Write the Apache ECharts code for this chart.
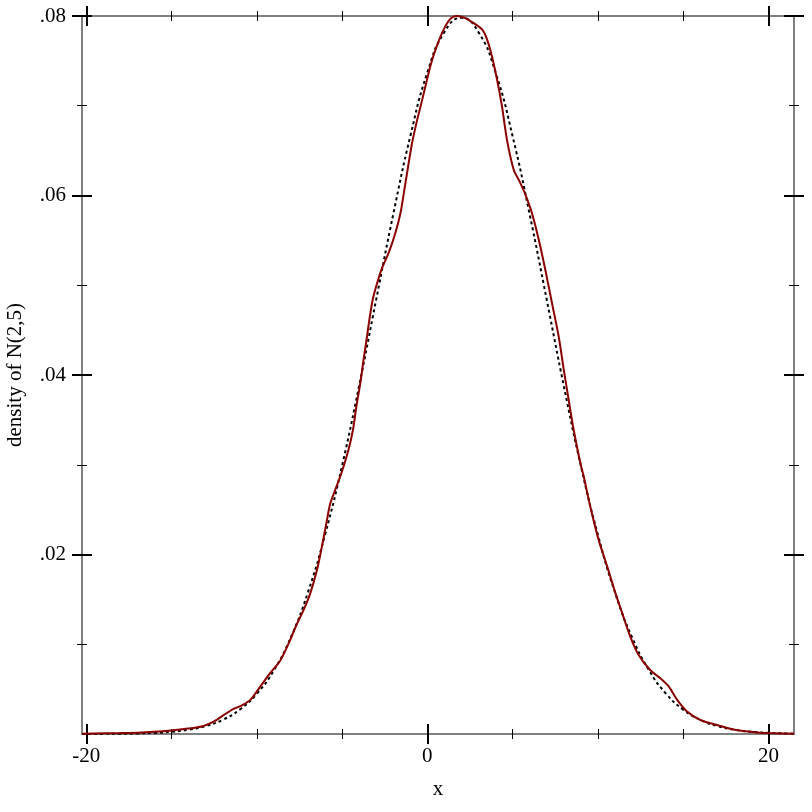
<!DOCTYPE html>
<html><head><meta charset="utf-8">
<script src="https://cdn.jsdelivr.net/npm/echarts@6/dist/echarts.min.js"></script>
<style>html,body{margin:0;padding:0;background:#fff}#c{width:812px;height:812px}</style>
</head><body><div id="c"></div><script>
// ---- tick values ----
const xMajorTicks = [-20, 0, 20];
const xMinorTicks = [-15, -10, -5, 5, 10, 15];
const yMajorTicks = [0.02, 0.04, 0.06, 0.08];
const yMinorTicks = [0.01, 0.03, 0.05, 0.07];

// ---- dashed curve: N(2,5) density ----
const normX = [-20.25,-20,-19,-18,-17,-16,-15,-14,-13,-12,-11,-10,-9,-8,-7,-6,-5,-4,-3,-2,-1,0,1,2,3,4,5,6,7,8,9,10,11,12,13,14,15,16,17,18,19,20,21,21.5];
const normY = [0.000005,0.000006,0.000013,0.000027,0.000058,0.00012,0.00025,0.00048,0.00089,0.00158,0.00272,0.00448,0.0071,0.0108,0.0158,0.0222,0.0299,0.0388,0.0484,0.0579,0.0666,0.0737,0.0782,0.0798,0.0782,0.0737,0.0666,0.0579,0.0484,0.0388,0.0299,0.0222,0.0158,0.0108,0.0071,0.00448,0.00272,0.00158,0.00089,0.00048,0.00025,0.00012,0.000058,0.00004];

// ---- solid curve: kernel density estimate ----
const kdeX = [-20.25,-19,-18,-17,-16,-15,-14,-13.12,-12.53,-11.95,-11.36,-10.87,-10.38,-9.79,-9.21,-8.62,-8.13,-7.64,-7.26,-6.86,-6.47,-6.18,-5.92,-5.69,-5.40,-5.05,-4.62,-4.36,-4.16,-3.93,-3.74,-3.54,-3.34,-3.18,-2.95,-2.66,-2.27,-1.88,-1.58,-1.35,-1.13,-0.90,-0.60,-0.31,-0.02,0.22,0.47,0.86,1.31,1.75,2.20,2.72,3.21,3.50,3.79,4.09,4.38,4.67,5.06,5.40,5.75,6.14,6.53,6.92,7.31,7.70,8.00,8.29,8.58,8.97,9.17,9.56,10.05,10.54,11.03,11.42,11.91,12.39,13.08,13.67,14.15,14.65,15.23,16.01,16.99,17.96,18.94,19.92,21.5];
const kdeY = [0.00004,0.00008,0.0001,0.00015,0.00025,0.0004,0.0006,0.0009,0.00137,0.0021,0.0028,0.0032,0.0038,0.0053,0.0068,0.0082,0.0101,0.0123,0.0138,0.0157,0.0183,0.0209,0.0235,0.0257,0.0272,0.0290,0.0317,0.0339,0.0365,0.0391,0.0417,0.0443,0.0469,0.0486,0.0502,0.0519,0.0536,0.0558,0.0580,0.0606,0.0632,0.0658,0.0684,0.0706,0.0729,0.0747,0.0762,0.0781,0.0796,0.0800,0.0798,0.0792,0.0785,0.0774,0.0755,0.0729,0.0699,0.0662,0.0629,0.0616,0.0601,0.0580,0.0551,0.0517,0.0480,0.0443,0.0406,0.0372,0.0339,0.0302,0.0287,0.0253,0.0216,0.0187,0.0157,0.0135,0.0108,0.0088,0.0071,0.0062,0.0053,0.0038,0.0025,0.00156,0.0010,0.0005,0.00026,0.0001,0.00003];

const X_MIN = -20.25, X_MAX = 21.5, Y_MIN = 0, Y_MAX = 0.08;
const FONT = '"Liberation Serif", "DejaVu Serif", serif';
const FS = 21;

function tickX(pos, vals, len, w) {
  return { type:'value', min:X_MIN, max:X_MAX, position:pos, offset:len/2,
    axisLine:{show:false, onZero:false}, splitLine:{show:false}, axisLabel:{show:false},
    axisTick:{show:true, inside:true, length:len, customValues:vals, lineStyle:{color:'#000', width:w}} };
}
function tickY(pos, vals, len, w) {
  return { type:'value', min:Y_MIN, max:Y_MAX, position:pos, offset:len/2,
    axisLine:{show:false, onZero:false}, splitLine:{show:false}, axisLabel:{show:false},
    axisTick:{show:true, inside:true, length:len, customValues:vals, lineStyle:{color:'#000', width:w}} };
}

const chart = echarts.init(document.getElementById('c'), null, {renderer:'canvas'});
chart.setOption({
  animation:false,
  backgroundColor:'#fff',
  grid:{left:82, top:16, width:712, height:718, show:true, borderColor:'#808080', borderWidth:2,
        backgroundColor:'transparent', containLabel:false, outerBoundsMode:'none'},
  xAxis:[
    { type:'value', min:X_MIN, max:X_MAX, position:'bottom',
      axisLine:{show:false, onZero:false}, axisTick:{show:false}, splitLine:{show:false},
      axisLabel:{customValues:xMajorTicks, margin:12, fontFamily:FONT, fontSize:FS, color:'#000', formatter:v=>String(v)},
      name:'x', nameLocation:'middle', nameGap:45, nameTextStyle:{fontFamily:FONT, fontSize:FS, color:'#000'} },
    tickX('bottom', xMajorTicks, 20, 2),
    tickX('bottom', xMinorTicks, 10, 1),
    tickX('top', xMajorTicks, 20, 2),
    tickX('top', xMinorTicks, 10, 1)
  ],
  yAxis:[
    { type:'value', min:Y_MIN, max:Y_MAX, position:'left',
      axisLine:{show:false, onZero:false}, axisTick:{show:false}, splitLine:{show:false},
      axisLabel:{customValues:yMajorTicks, margin:16, fontFamily:FONT, fontSize:FS, color:'#000', formatter:v=>v.toFixed(2).replace(/^0/,'')},
      name:'density of N(2,5)', nameLocation:'middle', nameGap:56, nameRotate:90,
      nameTextStyle:{fontFamily:FONT, fontSize:FS, color:'#000'} },
    tickY('left', yMajorTicks, 20, 2),
    tickY('left', yMinorTicks, 10, 1),
    tickY('right', yMajorTicks, 20, 2),
    tickY('right', yMinorTicks, 10, 1)
  ],
  series:[
    { type:'line', name:'N(2,5)', xAxisIndex:0, yAxisIndex:0, data:normX.map((x,i)=>[x, normY[i]]),
      symbol:'none', smooth:0.5, clip:false, z:2,
      lineStyle:{color:'#000', width:2, type:[3,3]} },
    { type:'line', name:'kde', xAxisIndex:0, yAxisIndex:0, data:kdeX.map((x,i)=>[x, kdeY[i]]),
      symbol:'none', smooth:0.3, clip:false, z:3,
      lineStyle:{color:'#8b0000', width:2} }
  ]
});
</script></body></html>
